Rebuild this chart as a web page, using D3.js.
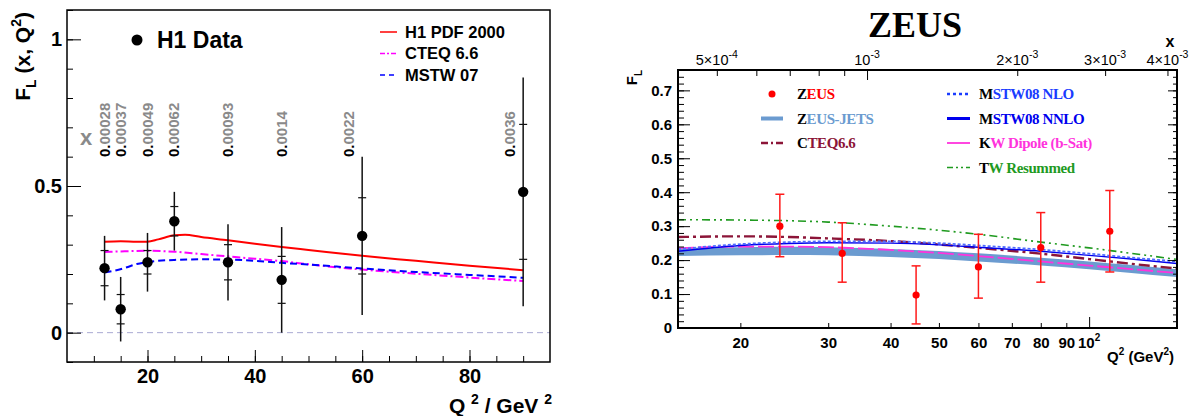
<!DOCTYPE html>
<html>
<head>
<meta charset="utf-8">
<script src="https://cdn.jsdelivr.net/npm/d3@7"></script>
<style>
  body { margin: 0; background: #fff; }
  svg { display: block; }
  text { font-family: "Liberation Sans", Arial, Helvetica, sans-serif; }
  .tick line { stroke: #000; }
</style>
</head>
<body>
<div id="chart"></div>
<script>
// ---- H1 data (left panel) ----
var h1Q2 = [12, 15, 20, 25, 35, 45, 60, 90]
var h1FL = [0.22, 0.08, 0.24, 0.38, 0.24, 0.18, 0.33, 0.48]
var h1Stat = [0.06, 0.05, 0.04, 0.05, 0.06, 0.08, 0.13, 0.23]
var h1Tot = [0.11, 0.11, 0.10, 0.10, 0.13, 0.18, 0.27, 0.39]
var h1XLabels = ['0.00028', '0.00037', '0.00049', '0.00062', '0.00093', '0.0014', '0.0022', '0.0036']
var h1XLabelQ2 = [12, 15, 20, 25, 35, 45, 57.5, 87.5]

var h1pdfQ2 = [12, 15, 18, 20, 22, 25, 27, 30, 35, 40, 45, 50, 60, 70, 80, 90]
var h1pdfFL = [0.31, 0.312, 0.31, 0.31, 0.318, 0.332, 0.334, 0.326, 0.315, 0.303, 0.292, 0.282, 0.262, 0.245, 0.228, 0.213]
var cteqQ2 = [12, 15, 20, 25, 30, 35, 40, 45, 50, 60, 70, 80, 90]
var cteqFL = [0.275, 0.277, 0.279, 0.276, 0.268, 0.26, 0.252, 0.244, 0.233, 0.215, 0.201, 0.188, 0.176]
var mstwQ2 = [12, 14, 16, 18, 20, 22, 25, 30, 35, 40, 45, 50, 60, 70, 80, 90]
var mstwFL = [0.205, 0.212, 0.222, 0.234, 0.241, 0.245, 0.248, 0.25, 0.249, 0.245, 0.238, 0.232, 0.219, 0.207, 0.197, 0.187]

// ---- ZEUS data (right panel) ----
var zeusQ2 = [24, 32, 45, 60, 80, 110]
var zeusFL = [0.30, 0.22, 0.097, 0.18, 0.237, 0.285]
var zeusErrUp = [0.094, 0.09, 0.086, 0.096, 0.103, 0.12]
var zeusErrDn = [0.09, 0.085, 0.085, 0.092, 0.102, 0.12]

var modelQ2 = [15, 20, 25, 30, 40, 50, 60, 80, 100, 120, 150]
var jetsUp = [0.236, 0.238, 0.239, 0.238, 0.233, 0.227, 0.22, 0.207, 0.196, 0.186, 0.173]
var jetsDn = [0.212, 0.214, 0.215, 0.214, 0.209, 0.203, 0.196, 0.184, 0.173, 0.163, 0.15]
var cteq66FL = [0.268, 0.27, 0.268, 0.264, 0.256, 0.246, 0.236, 0.219, 0.203, 0.19, 0.175]
var mstwNloFL = [0.232, 0.247, 0.253, 0.255, 0.255, 0.25, 0.243, 0.231, 0.219, 0.208, 0.196]
var mstwNnloFL = [0.226, 0.243, 0.249, 0.251, 0.25, 0.245, 0.238, 0.226, 0.214, 0.204, 0.19]
var kwFL = [0.235, 0.24, 0.24, 0.238, 0.23, 0.221, 0.212, 0.196, 0.184, 0.174, 0.162]
var twFL = [0.319, 0.318, 0.316, 0.312, 0.300, 0.288, 0.276, 0.253, 0.236, 0.221, 0.202]

var zeusYTicks = [0, 0.1, 0.2, 0.3, 0.4, 0.5, 0.6, 0.7]
var zeusQ2Ticks = [20, 30, 40, 50, 60, 70, 80, 90]
var topXLabels = [[5e-4, '5\u00d710', '-4'], [1e-3, '10', '-3'], [2e-3, '2\u00d710', '-3'], [3e-3, '3\u00d710', '-3'], [4e-3, '4\u00d710', '-3']]

var svg = d3.select('#chart').append('svg')
    .attr('width', 1189)
    .attr('height', 416)

function zip(a, b) { return a.map((v, i) => [v, b[i]]) }

// =================== left panel ===================
var L = {left: 67, top: 10, width: 483, height: 352}
var gL = svg.append('g').attr('transform', `translate(${L.left},${L.top})`)
var xL = d3.scaleLinear().domain([5, 95]).range([0, L.width])
var yL = d3.scaleLinear().domain([-0.1, 1.1]).range([L.height, 0])

// zero line
gL.append('line')
    .attr('x1', 0).attr('x2', L.width)
    .attr('y1', yL(0)).attr('y2', yL(0))
    .attr('stroke', '#a9a9d2').attr('stroke-width', 1).attr('stroke-dasharray', '6,4')

var lineL = d3.line().x(d => xL(d[0])).y(d => yL(d[1])).curve(d3.curveMonotoneX)
gL.append('path').attr('d', lineL(zip(h1pdfQ2, h1pdfFL)))
    .attr('fill', 'none').attr('stroke', '#ff0000').attr('stroke-width', 2)
gL.append('path').attr('d', lineL(zip(cteqQ2, cteqFL)))
    .attr('fill', 'none').attr('stroke', '#ff00ff').attr('stroke-width', 2).attr('stroke-dasharray', '8,3,2,3')
gL.append('path').attr('d', lineL(zip(mstwQ2, mstwFL)))
    .attr('fill', 'none').attr('stroke', '#0000ff').attr('stroke-width', 2).attr('stroke-dasharray', '7,4')

// error bars and points
var h1 = h1Q2.map((q, i) => ({q: q, f: h1FL[i], s: h1Stat[i], t: h1Tot[i]}))
var pts = gL.selectAll('.h1pt').data(h1).enter().append('g').attr('class', 'h1pt')
pts.append('line')
    .attr('x1', d => xL(d.q)).attr('x2', d => xL(d.q))
    .attr('y1', d => yL(d.f + d.t)).attr('y2', d => yL(d.f - d.t))
    .attr('stroke', '#111').attr('stroke-width', 1.5)
pts.selectAll('.stat').data(d => [[d.q, d.f + d.s], [d.q, d.f - d.s]]).enter().append('line')
    .attr('x1', d => xL(d[0]) - 4).attr('x2', d => xL(d[0]) + 4)
    .attr('y1', d => yL(d[1])).attr('y2', d => yL(d[1]))
    .attr('stroke', '#111').attr('stroke-width', 1.2)
pts.append('circle')
    .attr('cx', d => xL(d.q)).attr('cy', d => yL(d.f)).attr('r', 5.2).attr('fill', '#000')

// x value labels
gL.selectAll('.xlab').data(h1XLabels).enter().append('text')
    .attr('transform', (d, i) => `translate(${xL(h1XLabelQ2[i]) + 5},147) rotate(-90)`)
    .style('font-family', '"Liberation Sans Narrow", "Liberation Sans", Arial, sans-serif')
    .style('font-size', '15px').style('font-weight', 'bold')
    .each(function(d) {
        d3.select(this).append('tspan').attr('fill', '#000').text(d.slice(0, 2))
        d3.select(this).append('tspan').attr('fill', '#8a8a8a').text(d.slice(2))
    })
gL.append('text').attr('x', 13).attr('y', 135)
    .style('font-size', '22px').style('font-weight', 'bold').attr('fill', '#8a8a8a').text('x')

// axes
var axB = gL.append('g').attr('transform', `translate(0,${L.height})`)
axB.call(d3.axisBottom(xL).tickValues(d3.range(10, 95, 5)).tickSize(-6).tickFormat(''))
axB.call(g => g.select('.domain').remove())
var axB2 = gL.append('g').attr('transform', `translate(0,${L.height})`)
    .call(d3.axisBottom(xL).tickValues([20, 40, 60, 80]).tickSize(-12).tickPadding(7).tickFormat(d3.format('d')))
axB2.select('.domain').remove()
axB2.selectAll('text').style('font-size', '20px').style('font-weight', 'bold').attr('fill', '#000')

var axLm = gL.append('g').call(d3.axisLeft(yL).tickValues(d3.range(-0.1, 1.15, 0.1)).tickSize(-6).tickFormat(''))
axLm.select('.domain').remove()
var axL2 = gL.append('g').call(d3.axisLeft(yL).tickValues([0, 0.5, 1]).tickSize(-14).tickPadding(5).tickFormat(d => d === 0.5 ? '0.5' : d3.format('d')(d)))
axL2.select('.domain').remove()
axL2.selectAll('text').style('font-size', '20px').style('font-weight', 'bold').attr('fill', '#000')

gL.append('rect').attr('width', L.width).attr('height', L.height)
    .attr('fill', 'none').attr('stroke', '#000').attr('stroke-width', 1.5)

// titles
var ytL = svg.append('text').attr('transform', 'translate(30,12) rotate(-90)')
    .attr('text-anchor', 'end').style('font-size', '21px').style('font-weight', 'bold')
ytL.append('tspan').text('F')
ytL.append('tspan').attr('dy', 6).style('font-size', '14px').text('L')
ytL.append('tspan').attr('dy', -6).text(' (x, Q')
ytL.append('tspan').attr('dy', -9).style('font-size', '14px').text('2')
ytL.append('tspan').attr('dy', 9).text(')')

var xtL = svg.append('text').attr('x', 552).attr('y', 413)
    .attr('text-anchor', 'end').style('font-size', '21px').style('font-weight', 'bold')
xtL.append('tspan').text('Q ')
xtL.append('tspan').attr('dy', -9).style('font-size', '14px').text('2')
xtL.append('tspan').attr('dy', 9).text(' / GeV ')
xtL.append('tspan').attr('dy', -9).style('font-size', '14px').text('2')

// legend left
gL.append('circle').attr('cx', 70).attr('cy', 30).attr('r', 5.5).attr('fill', '#000')
gL.append('text').attr('x', 90).attr('y', 38).style('font-size', '23px').style('font-weight', 'bold').text('H1 Data')
var legL = [
    {name: 'H1 PDF 2000', color: '#ff0000', dash: null},
    {name: 'CTEQ 6.6', color: '#ff00ff', dash: '5,2,2,2'},
    {name: 'MSTW 07', color: '#0000ff', dash: '5,4'}
]
legL.forEach(function(d, i) {
    var yy = 22 + i * 21.5
    gL.append('line').attr('x1', 313).attr('x2', 330).attr('y1', yy).attr('y2', yy)
        .attr('stroke', d.color).attr('stroke-width', 1.5).attr('stroke-dasharray', d.dash)
    gL.append('text').attr('x', 338).attr('y', yy + 5.5).style('font-size', '16.5px').style('font-weight', 'bold').text(d.name)
})

// =================== right panel ===================
var R = {left: 678, top: 70, width: 499, height: 258}
var gR = svg.append('g').attr('transform', `translate(${R.left},${R.top})`)
var xR = d3.scaleLog().domain([15, 150]).range([0, R.width])
var xTop = d3.scaleLog().domain([4.18e-4, 4.18e-3]).range([0, R.width])
var yR = d3.scaleLinear().domain([0, 0.76]).range([R.height, 0])

var lineR = d3.line().x(d => xR(d[0])).y(d => yR(d[1])).curve(d3.curveMonotoneX)
var areaR = d3.area().x((d, i) => xR(modelQ2[i])).y0(d => yR(d[0])).y1(d => yR(d[1])).curve(d3.curveMonotoneX)

gR.append('clipPath').attr('id', 'clipR').append('rect').attr('width', R.width).attr('height', R.height)
var plotR = gR.append('g').attr('clip-path', 'url(#clipR)')

plotR.append('path').attr('d', areaR(zip(jetsDn, jetsUp))).attr('fill', '#6b9bd0').attr('stroke', 'none')
plotR.append('path').attr('d', lineR(zip(modelQ2, twFL)))
    .attr('fill', 'none').attr('stroke', '#1f9a1f').attr('stroke-width', 1.6).attr('stroke-dasharray', '8,4,2,4,2,4')
plotR.append('path').attr('d', lineR(zip(modelQ2, cteq66FL)))
    .attr('fill', 'none').attr('stroke', '#8c1538').attr('stroke-width', 2.4).attr('stroke-dasharray', '11,4,3,4')
plotR.append('path').attr('d', lineR(zip(modelQ2, kwFL)))
    .attr('fill', 'none').attr('stroke', '#ff33dd').attr('stroke-width', 1.8).attr('stroke-dasharray', '16,4')
plotR.append('path').attr('d', lineR(zip(modelQ2, mstwNnloFL)))
    .attr('fill', 'none').attr('stroke', '#0000ee').attr('stroke-width', 1.4)
plotR.append('path').attr('d', lineR(zip(modelQ2, mstwNloFL)))
    .attr('fill', 'none').attr('stroke', '#4f6bff').attr('stroke-width', 1.8).attr('stroke-dasharray', '3,2')

var zeus = zeusQ2.map((q, i) => ({q: q, f: zeusFL[i], up: zeusErrUp[i], dn: zeusErrDn[i]}))
var zp = gR.selectAll('.zpt').data(zeus).enter().append('g').attr('class', 'zpt')
zp.append('line').attr('x1', d => xR(d.q)).attr('x2', d => xR(d.q))
    .attr('y1', d => yR(d.f + d.up)).attr('y2', d => yR(d.f - d.dn))
    .attr('stroke', '#ff1a1a').attr('stroke-width', 1.5)
zp.selectAll('.cap').data(d => [[d.q, d.f + d.up], [d.q, d.f - d.dn]]).enter().append('line')
    .attr('x1', d => xR(d[0]) - 4.5).attr('x2', d => xR(d[0]) + 4.5)
    .attr('y1', d => yR(d[1])).attr('y2', d => yR(d[1]))
    .attr('stroke', '#ff1a1a').attr('stroke-width', 1.5)
zp.append('circle').attr('cx', d => xR(d.q)).attr('cy', d => yR(d.f)).attr('r', 3.6).attr('fill', '#ff0000')

// axes right panel
function clean(g) { g.select('.domain').remove() }
gR.append('g').call(d3.axisLeft(yR).tickValues(d3.range(0, 0.761, 0.02)).tickSize(-6).tickFormat('')).call(clean)
var ayR = gR.append('g').call(d3.axisLeft(yR).tickValues(zeusYTicks).tickSize(-12).tickPadding(6)
    .tickFormat(d => d === 0 ? '0' : d3.format('.1f')(d)))
ayR.call(clean)
ayR.selectAll('text').style('font-size', '15px').style('font-weight', 'bold').attr('fill', '#000')
gR.append('g').attr('transform', `translate(${R.width},0)`)
    .call(d3.axisRight(yR).tickValues(d3.range(0, 0.761, 0.02)).tickSize(-4).tickFormat('')).call(clean)
gR.append('g').attr('transform', `translate(${R.width},0)`)
    .call(d3.axisRight(yR).tickValues(zeusYTicks).tickSize(-9).tickFormat('')).call(clean)

var axQ = gR.append('g').attr('transform', `translate(0,${R.height})`)
    .call(d3.axisBottom(xR).tickValues(zeusQ2Ticks).tickSize(-5).tickPadding(9).tickFormat(d3.format('d')))
axQ.call(clean)
axQ.selectAll('text').style('font-size', '15px').style('font-weight', 'bold').attr('fill', '#000')
gR.append('g').attr('transform', `translate(0,${R.height})`)
    .call(d3.axisBottom(xR).tickValues([100]).tickSize(-11).tickFormat('')).call(clean)
var t100 = gR.append('text').attr('x', xR(100)).attr('y', R.height + 20)
    .attr('text-anchor', 'middle').style('font-size', '15px').style('font-weight', 'bold')
t100.append('tspan').text('10')
t100.append('tspan').attr('dy', -7).style('font-size', '10px').text('2')

var topTicks = [5e-4, 6e-4, 7e-4, 8e-4, 9e-4, 2e-3, 3e-3, 4e-3]
gR.append('g').call(d3.axisTop(xTop).tickValues(topTicks).tickSize(-6).tickFormat('')).call(clean)
gR.append('g').call(d3.axisTop(xTop).tickValues([1e-3]).tickSize(-10).tickFormat('')).call(clean)
topXLabels.forEach(function(d) {
    var t = gR.append('text').attr('x', xTop(d[0])).attr('y', -5).attr('text-anchor', 'middle')
        .style('font-size', '14.5px')
    t.append('tspan').text(d[1])
    t.append('tspan').attr('dy', -7).style('font-size', '10.5px').text(d[2])
})

gR.append('rect').attr('width', R.width).attr('height', R.height)
    .attr('fill', 'none').attr('stroke', '#000').attr('stroke-width', 2)

// titles right
svg.append('text').attr('x', 915).attr('y', 37).attr('text-anchor', 'middle')
    .style('font-family', '"Liberation Serif", "Times New Roman", serif')
    .style('font-size', '36px').style('font-weight', 'bold').text('ZEUS')
svg.append('text').attr('x', 1170).attr('y', 47).attr('text-anchor', 'middle')
    .style('font-size', '16px').style('font-weight', 'bold').text('x')
var ytR = svg.append('text').attr('transform', 'translate(637,70) rotate(-90)')
    .attr('text-anchor', 'end').style('font-size', '15px').style('font-weight', 'bold')
ytR.append('tspan').text('F')
ytR.append('tspan').attr('dy', 5).style('font-size', '10px').text('L')
var xtR = svg.append('text').attr('x', 1174).attr('y', 362).attr('text-anchor', 'end')
    .style('font-size', '15px').style('font-weight', 'bold')
xtR.append('tspan').text('Q')
xtR.append('tspan').attr('dy', -7).style('font-size', '10px').text('2')
xtR.append('tspan').attr('dy', 7).text(' (GeV')
xtR.append('tspan').attr('dy', -7).style('font-size', '10px').text('2')
xtR.append('tspan').attr('dy', 7).text(')')

// legend right
var legR = [
    {first: 'Z', rest: 'EUS', color: '#ff0000', kind: 'dot', col: 0, row: 0},
    {first: 'Z', rest: 'EUS-JETS', color: '#6b9bd0', kind: 'line', w: 4, dash: null, col: 0, row: 1},
    {first: 'C', rest: 'TEQ6.6', color: '#8c1538', kind: 'line', w: 2.4, dash: '7,3,2,3', col: 0, row: 2},
    {first: 'M', rest: 'STW08 NLO', color: '#1a3cff', kind: 'line', w: 2.4, dash: '3,3', col: 1, row: 0},
    {first: 'M', rest: 'STW08 NNLO', color: '#0000ee', kind: 'line', w: 3, dash: null, col: 1, row: 1},
    {first: 'K', rest: 'W Dipole (b-Sat)', color: '#ff33dd', kind: 'line', w: 1.8, dash: null, col: 1, row: 2},
    {first: 'T', rest: 'W Resummed', color: '#1f9a1f', kind: 'line', w: 1.4, dash: '6,3,2,3,2,3', col: 1, row: 3}
]
var legCols = [[761, 783, 797], [947, 970, 979]]
legR.forEach(function(d) {
    var c = legCols[d.col]
    var yy = 94 + d.row * 24.5
    if (d.kind === 'dot') {
        svg.append('circle').attr('cx', (c[0] + c[1]) / 2).attr('cy', yy).attr('r', 3.5).attr('fill', d.color)
    } else {
        svg.append('line').attr('x1', c[0]).attr('x2', c[1]).attr('y1', yy).attr('y2', yy)
            .attr('stroke', d.color).attr('stroke-width', d.w).attr('stroke-dasharray', d.dash)
    }
    var t = svg.append('text').attr('x', c[2]).attr('y', yy + 5)
        .style('font-family', '"Liberation Serif", "Times New Roman", serif')
        .style('font-size', '15px').style('font-weight', 'bold').style('letter-spacing', '-0.4px')
    t.append('tspan').attr('fill', '#000').text(d.first)
    t.append('tspan').attr('fill', d.color).text(d.rest)
})
</script>
</body>
</html>
